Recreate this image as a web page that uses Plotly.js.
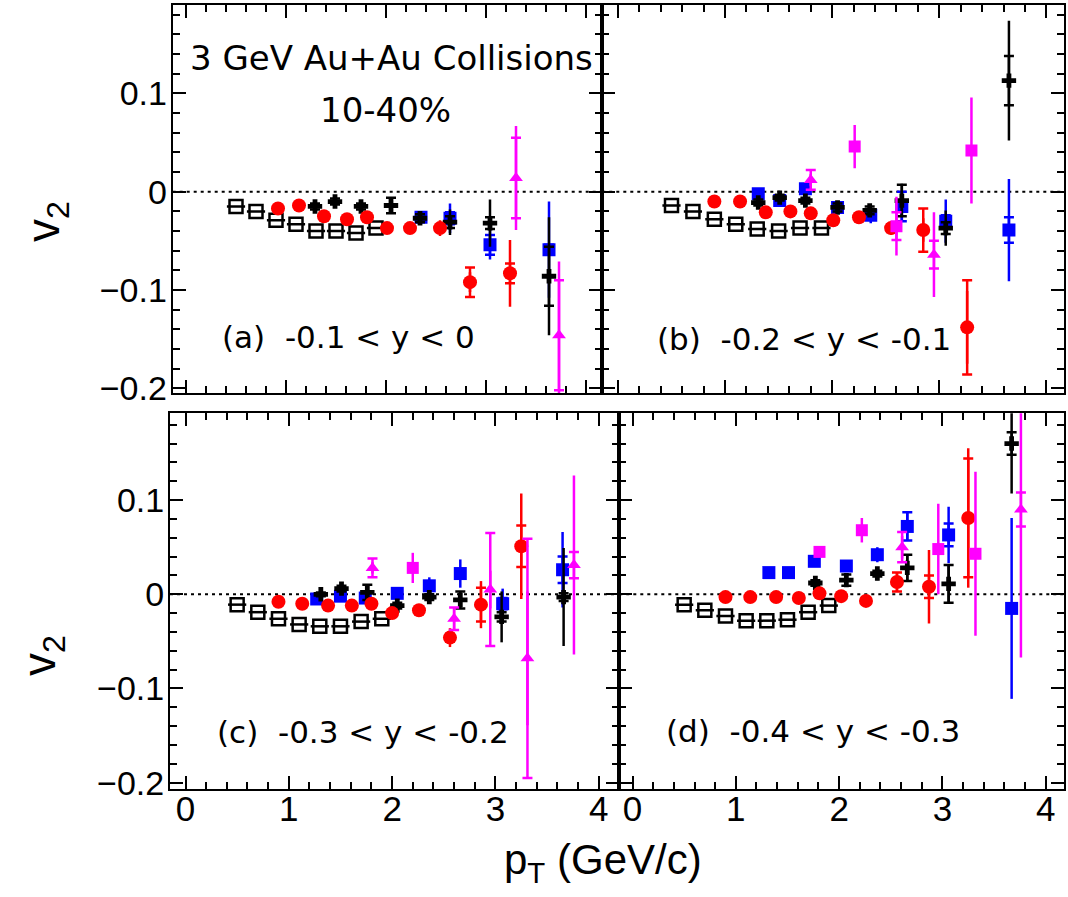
<!DOCTYPE html>
<html>
<head>
<meta charset="utf-8">
<script src="https://cdn.plot.ly/plotly-3.0.1.min.js"></script>
<style>
html,body{margin:0;padding:0;background:#fff;}
#chart{width:1068px;height:897px;}
</style>
</head>
<body>
<div id="chart"></div>
<script>
// ---------------- DATA ----------------
// open black squares share the same pT bins in every panel
const open_x = [0.5, 0.7, 0.9, 1.1, 1.3, 1.5, 1.7, 1.9];

// Panel (a)  -0.1 < y < 0
const a_open_y  = [-0.015, -0.020, -0.029, -0.033, -0.040, -0.040, -0.042, -0.037];
const a_cross_x = [1.29, 1.49, 1.75, 2.05, 2.34, 2.64, 3.04, 3.63];
const a_cross_y = [-0.015, -0.010, -0.015, -0.014, -0.027, -0.031, -0.032, -0.086];
const a_cross_stat = [0.004, 0.004, 0.005, 0.005, 0.006, 0.013, 0.024, 0.060];
const a_cross_sys  = [0.003, 0.003, 0.003, 0.008, 0.004, 0.006, 0.006, 0.030];
const a_circ_x = [0.92, 1.13, 1.38, 1.61, 1.81, 2.01, 2.24, 2.54, 2.84, 3.24];
const a_circ_y = [-0.017, -0.014, -0.025, -0.028, -0.026, -0.037, -0.037, -0.037, -0.092, -0.083];
const a_circ_stat = [0.003, 0.003, 0.003, 0.003, 0.003, 0.004, 0.005, 0.008, 0.010, 0.034];
const a_circ_sys  = [0.002, 0.002, 0.002, 0.002, 0.002, 0.002, 0.003, 0.003, 0.015, 0.010];
const a_blue_x = [2.35, 2.64, 3.04, 3.63];
const a_blue_y = [-0.026, -0.027, -0.054, -0.059];
const a_blue_stat = [0.006, 0.015, 0.015, 0.049];
const a_blue_sys  = [0.004, 0.006, 0.010, 0.005];
const a_tri_x = [3.30, 3.73];
const a_tri_y = [0.014, -0.146];
const a_tri_stat = [0.053, 0.075];
const a_tri_sys  = [0.041, 0.056];

// Panel (b)  -0.2 < y < -0.1
const b_open_y  = [-0.014, -0.020, -0.028, -0.033, -0.038, -0.040, -0.037, -0.037];
const b_cross_x = [1.31, 1.51, 1.75, 2.05, 2.35, 2.65, 3.06, 3.65];
const b_cross_y = [-0.011, -0.006, -0.009, -0.016, -0.019, -0.009, -0.037, 0.113];
const b_cross_stat = [0.004, 0.004, 0.005, 0.005, 0.006, 0.017, 0.018, 0.061];
const b_cross_sys  = [0.003, 0.003, 0.003, 0.004, 0.004, 0.016, 0.006, 0.025];
const b_circ_x = [0.90, 1.14, 1.38, 1.61, 1.80, 2.01, 2.25, 2.55, 2.85, 3.26];
const b_circ_y = [-0.010, -0.010, -0.021, -0.020, -0.022, -0.029, -0.026, -0.037, -0.039, -0.138];
const b_circ_stat = [0.003, 0.003, 0.003, 0.003, 0.003, 0.004, 0.005, 0.007, 0.012, 0.037];
const b_circ_sys  = [0.002, 0.002, 0.002, 0.002, 0.002, 0.003, 0.003, 0.004, 0.022, 0.048];
const b_blue_x = [1.31, 1.51, 1.75, 2.05, 2.36, 2.65, 3.06, 3.65];
const b_blue_y = [-0.002, -0.009, 0.003, -0.016, -0.024, -0.015, -0.030, -0.039];
const b_blue_stat = [0.004, 0.005, 0.006, 0.006, 0.008, 0.015, 0.022, 0.052];
const b_blue_sys  = [0.004, 0.003, 0.004, 0.003, 0.004, 0.015, 0.006, 0.013];
const b_tri_x = [1.80, 2.95];
const b_tri_y = [0.012, -0.064];
const b_tri_stat = [0.006, 0.043];
const b_tri_sys  = [0.010, 0.014];
const b_msq_x = [2.21, 2.60, 3.30];
const b_msq_y = [0.046, -0.035, 0.042];
const b_msq_stat = [0.022, 0.030, 0.054];
const b_msq_sys  = [0.003, 0.014, 0.003];

// Panel (c)  -0.3 < y < -0.2
const c_open_y  = [-0.011, -0.019, -0.026, -0.032, -0.034, -0.034, -0.029, -0.026];
const c_cross_x = [1.31, 1.51, 1.76, 2.05, 2.36, 2.66, 3.06, 3.66];
const c_cross_y = [0.000, 0.006, 0.002, -0.012, -0.003, -0.006, -0.024, -0.003];
const c_cross_stat = [0.004, 0.005, 0.005, 0.005, 0.006, 0.008, 0.027, 0.052];
const c_cross_sys  = [0.002, 0.003, 0.008, 0.003, 0.003, 0.009, 0.005, 0.004];
const c_circ_x = [0.90, 1.13, 1.38, 1.61, 1.80, 2.00, 2.26, 2.56, 2.86, 3.25];
const c_circ_y = [-0.008, -0.010, -0.012, -0.012, -0.010, -0.020, -0.017, -0.046, -0.011, 0.051];
const c_circ_stat = [0.003, 0.003, 0.003, 0.003, 0.003, 0.004, 0.005, 0.010, 0.025, 0.056];
const c_circ_sys  = [0.002, 0.002, 0.002, 0.002, 0.002, 0.002, 0.003, 0.004, 0.018, 0.022];
const c_blue_x = [1.27, 1.50, 1.74, 2.05, 2.36, 2.66, 3.07, 3.65];
const c_blue_y = [-0.005, -0.002, -0.004, 0.001, 0.009, 0.022, -0.010, 0.026];
const c_blue_stat = [0.004, 0.005, 0.005, 0.006, 0.009, 0.015, 0.016, 0.040];
const c_blue_sys  = [0.003, 0.003, 0.003, 0.003, 0.004, 0.004, 0.006, 0.014];
const c_tri_x = [1.81, 2.60, 2.95, 3.31, 3.76];
const c_tri_y = [0.028, -0.026, 0.005, -0.068, 0.031];
const c_tri_stat = [0.006, 0.012, 0.020, 0.071, 0.095];
const c_tri_sys  = [0.010, 0.012, 0.060, 0.127, 0.014];
const c_msq_x = [2.20];
const c_msq_y = [0.028];
const c_msq_stat = [0.016];
const c_msq_sys  = [0.004];

// Panel (d)  -0.4 < y < -0.3
const d_open_y  = [-0.011, -0.017, -0.023, -0.028, -0.028, -0.027, -0.019, -0.012];
const d_cross_x = [1.77, 2.07, 2.37, 2.66, 3.06, 3.67];
const d_cross_y = [0.012, 0.015, 0.022, 0.028, 0.011, 0.160];
const d_cross_stat = [0.005, 0.005, 0.007, 0.014, 0.020, 0.053];
const d_cross_sys  = [0.003, 0.006, 0.003, 0.014, 0.020, 0.012];
const d_circ_x = [0.90, 1.14, 1.39, 1.61, 1.81, 2.02, 2.26, 2.56, 2.87, 3.25];
const d_circ_y = [-0.003, -0.003, -0.003, -0.004, 0.001, -0.002, -0.007, 0.013, 0.008, 0.081];
const d_circ_stat = [0.003, 0.003, 0.003, 0.003, 0.003, 0.004, 0.005, 0.010, 0.039, 0.074];
const d_circ_sys  = [0.002, 0.002, 0.002, 0.002, 0.002, 0.002, 0.003, 0.010, 0.012, 0.063];
const d_blue_x = [1.32, 1.51, 1.76, 2.07, 2.37, 2.66, 3.06, 3.67];
const d_blue_y = [0.023, 0.023, 0.035, 0.030, 0.042, 0.072, 0.063, -0.015];
const d_blue_stat = [0.004, 0.004, 0.006, 0.006, 0.008, 0.015, 0.030, 0.096];
const d_blue_sys  = [0.003, 0.003, 0.003, 0.003, 0.003, 0.015, 0.012, 0.003];
const d_tri_x = [2.61, 3.76];
const d_tri_y = [0.050, 0.090];
const d_tri_stat = [0.012, 0.157];
const d_tri_sys  = [0.016, 0.018];
const d_msq_x = [1.81, 2.22, 2.96, 3.32];
const d_msq_y = [0.045, 0.068, 0.048, 0.043];
const d_msq_stat = [0.004, 0.013, 0.048, 0.087];
const d_msq_sys  = [0.003, 0.003, 0.003, 0.003];

const panelLabels = ['(a)\u00a0\u00a0-0.1 &lt; y &lt; 0', '(b)\u00a0\u00a0-0.2 &lt; y &lt; -0.1',
                     '(c)\u00a0\u00a0-0.3 &lt; y &lt; -0.2', '(d)\u00a0\u00a0-0.4 &lt; y &lt; -0.3'];
const titleLine1 = '3 GeV Au+Au Collisions';
const titleLine2 = '10-40%';
const xTitle = 'p<sub>T</sub> (GeV/c)';
const yTitle = 'v<sub>2</sub>';

// ---------------- STYLES ----------------
const RED = '#ff0000', BLUE = '#0000ff', MAG = '#ff00ff', BLK = '#000000';
const STY = {
  cross: {symbol: 'cross', color: BLK, size: 12},
  circ:  {symbol: 'circle', color: RED, size: 14},
  blue:  {symbol: 'square', color: BLUE, size: 13},
  tri:   {symbol: 'triangle-up', color: MAG, size: 12},
  msq:   {symbol: 'square', color: MAG, size: 12}
};

const traces = [];
function addOpen(ax, ay, y) {
  traces.push({type: 'scatter', mode: 'markers', x: open_x, y: y, xaxis: ax, yaxis: ay,
    marker: {symbol: 'square-open', size: 13, color: BLK, line: {width: 2.5, color: BLK}},
    showlegend: false, hoverinfo: 'skip'});
  traces.push({type: 'scatter', mode: 'markers', x: open_x, y: y, xaxis: ax, yaxis: ay,
    marker: {symbol: 'line-ew', size: 13, color: BLK, line: {width: 2.5, color: BLK}},
    showlegend: false, hoverinfo: 'skip'});
}
function addSeries(ax, ay, s, x, y, stat, sys) {
  traces.push({type: 'scatter', mode: 'markers', x: x, y: y, xaxis: ax, yaxis: ay,
    marker: {size: 1, opacity: 0, color: s.color},
    error_y: {type: 'data', array: sys, visible: true, color: s.color, thickness: 2.5, width: 5},
    showlegend: false, hoverinfo: 'skip'});
  traces.push({type: 'scatter', mode: 'markers', x: x, y: y, xaxis: ax, yaxis: ay,
    marker: {symbol: s.symbol, size: s.size, color: s.color, line: {width: 0}},
    error_y: {type: 'data', array: stat, visible: true, color: s.color, thickness: 2.5, width: 0},
    showlegend: false, hoverinfo: 'skip'});
}

// panel a
addOpen('x', 'y', a_open_y);
addSeries('x', 'y', STY.blue, a_blue_x, a_blue_y, a_blue_stat, a_blue_sys);
addSeries('x', 'y', STY.cross, a_cross_x, a_cross_y, a_cross_stat, a_cross_sys);
addSeries('x', 'y', STY.circ, a_circ_x, a_circ_y, a_circ_stat, a_circ_sys);
addSeries('x', 'y', STY.tri, a_tri_x, a_tri_y, a_tri_stat, a_tri_sys);
// panel b
addOpen('x2', 'y2', b_open_y);
addSeries('x2', 'y2', STY.blue, b_blue_x, b_blue_y, b_blue_stat, b_blue_sys);
addSeries('x2', 'y2', STY.cross, b_cross_x, b_cross_y, b_cross_stat, b_cross_sys);
addSeries('x2', 'y2', STY.circ, b_circ_x, b_circ_y, b_circ_stat, b_circ_sys);
addSeries('x2', 'y2', STY.msq, b_msq_x, b_msq_y, b_msq_stat, b_msq_sys);
addSeries('x2', 'y2', STY.tri, b_tri_x, b_tri_y, b_tri_stat, b_tri_sys);
// panel c
addOpen('x3', 'y3', c_open_y);
addSeries('x3', 'y3', STY.blue, c_blue_x, c_blue_y, c_blue_stat, c_blue_sys);
addSeries('x3', 'y3', STY.cross, c_cross_x, c_cross_y, c_cross_stat, c_cross_sys);
addSeries('x3', 'y3', STY.circ, c_circ_x, c_circ_y, c_circ_stat, c_circ_sys);
addSeries('x3', 'y3', STY.msq, c_msq_x, c_msq_y, c_msq_stat, c_msq_sys);
addSeries('x3', 'y3', STY.tri, c_tri_x, c_tri_y, c_tri_stat, c_tri_sys);
// panel d
addOpen('x4', 'y4', d_open_y);
addSeries('x4', 'y4', STY.blue, d_blue_x, d_blue_y, d_blue_stat, d_blue_sys);
addSeries('x4', 'y4', STY.cross, d_cross_x, d_cross_y, d_cross_stat, d_cross_sys);
addSeries('x4', 'y4', STY.circ, d_circ_x, d_circ_y, d_circ_stat, d_circ_sys);
addSeries('x4', 'y4', STY.msq, d_msq_x, d_msq_y, d_msq_stat, d_msq_sys);
addSeries('x4', 'y4', STY.tri, d_tri_x, d_tri_y, d_tri_stat, d_tri_sys);

// ---------------- LAYOUT ----------------
const W = 1068, H = 897;
const px = v => v / W, py = v => 1 - v / H;

function xax(d0, d1, r, labels, anchor) {
  return {domain: [px(d0), px(d1)], range: r, anchor: anchor, showgrid: false, zeroline: false,
    showline: true, linecolor: BLK, linewidth: 2, mirror: 'allticks',
    ticks: 'inside', ticklen: 13, tickwidth: 2, tickcolor: BLK, tick0: 0, dtick: 1,
    minor: {dtick: 0.2, ticks: 'inside', ticklen: 7, tickwidth: 2, tickcolor: BLK, showgrid: false},
    showticklabels: labels, ticklabelstandoff: -12,
    tickfont: {family: 'Liberation Sans Narrow, Liberation Sans, Arial', size: 35, color: BLK},
    fixedrange: true};
}
function yax(d0, d1, r, labels, anchor) {
  return {domain: [py(d1), py(d0)], range: r, anchor: anchor, showgrid: false, zeroline: false,
    showline: true, linecolor: BLK, linewidth: 2, mirror: 'allticks',
    ticks: 'inside', ticklen: 13, tickwidth: 2, tickcolor: BLK, tick0: 0, dtick: 0.1,
    minor: {dtick: 0.02, ticks: 'inside', ticklen: 7, tickwidth: 2, tickcolor: BLK, showgrid: false},
    showticklabels: labels, ticklabelstandoff: -3,
    tickfont: {family: 'Liberation Sans, Arial', size: 34, color: BLK},
    fixedrange: true};
}

const topY0 = 5, topY1 = 393.3, botY0 = 413.3, botY1 = 789.3;
const layout = {
  width: W, height: H, margin: {l: 0, r: 0, t: 0, b: 0},
  paper_bgcolor: '#ffffff', plot_bgcolor: '#ffffff', showlegend: false,
  xaxis:  xax(172.7, 602.3, [-0.133, 4.163], false, 'y'),
  yaxis:  yax(topY0, topY1, [-0.2051, 0.190], true, 'x'),
  xaxis2: xax(602.3, 1064, [-0.146, 4.164], false, 'y2'),
  yaxis2: yax(topY0, topY1, [-0.2051, 0.190], false, 'x2'),
  xaxis3: xax(170, 619.3, [-0.150, 4.199], true, 'y3'),
  yaxis3: yax(botY0, botY1, [-0.2070, 0.1921], true, 'x3'),
  xaxis4: xax(619.3, 1064, [-0.128, 4.177], true, 'y4'),
  yaxis4: yax(botY0, botY1, [-0.2070, 0.1921], false, 'x4'),
  shapes: ['', '2', '3', '4'].map(k => ({type: 'line', layer: 'below',
    xref: 'x' + k + ' domain', x0: 0, x1: 1, yref: 'y' + k, y0: 0, y1: 0,
    line: {color: BLK, width: 2, dash: '3px,4px'}})),
  annotations: []
};
const ann = (text, x, y, font, extra) => Object.assign({text: text, xref: 'paper', yref: 'paper',
  x: px(x), y: py(y), xanchor: 'center', yanchor: 'middle', showarrow: false, font: font}, extra || {});
const fPanel = {family: 'DejaVu Sans', size: 31, color: BLK};
layout.annotations.push(ann(titleLine1, 391, 58, {family: 'DejaVu Sans', size: 34, color: BLK}));
layout.annotations.push(ann(titleLine2, 385, 110, {family: 'DejaVu Sans', size: 34, color: BLK}));
layout.annotations.push(ann(panelLabels[0], 348, 337, fPanel));
layout.annotations.push(ann(panelLabels[1], 804, 339, fPanel));
layout.annotations.push(ann(panelLabels[2], 363, 732, fPanel));
layout.annotations.push(ann(panelLabels[3], 813, 731, fPanel));
layout.annotations.push(ann(yTitle, 46, 222, {family: 'Liberation Sans, Arial', size: 46, color: BLK}, {textangle: -90}));
layout.annotations.push(ann(yTitle, 42, 656, {family: 'Liberation Sans, Arial', size: 46, color: BLK}, {textangle: -90}));
layout.annotations.push(ann(xTitle, 603, 862, {family: 'Liberation Sans, Arial', size: 42, color: BLK}));

Plotly.newPlot('chart', traces, layout, {staticPlot: true, displayModeBar: false});
</script>
</body>
</html>
